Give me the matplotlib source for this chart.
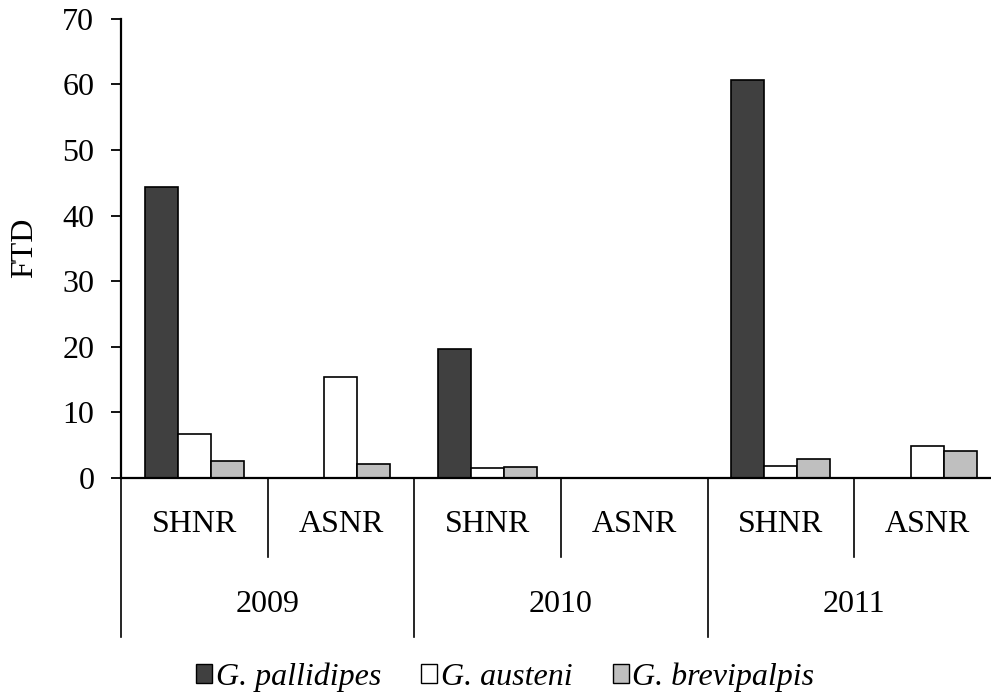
import matplotlib

matplotlib.use("Agg")
import matplotlib.pyplot as plt
import matplotlib.transforms as mtransforms
import numpy as np
from matplotlib.patches import Patch

plt.rcParams["font.family"] = ["Liberation Serif", "DejaVu Serif"]

# data
years = ["2009", "2010", "2011"]
sites = ["SHNR", "ASNR", "SHNR", "ASNR", "SHNR", "ASNR"]
species = ["G. pallidipes", "G. austeni", "G. brevipalpis"]
pallidipes = [44.4, 0.0, 19.7, 0.0, 60.6, 0.0]
austeni = [6.7, 15.4, 1.45, 0.0, 1.8, 4.9]
brevipalpis = [2.5, 2.1, 1.6, 0.0, 2.8, 4.1]
colors = ["#404040", "#ffffff", "#bfbfbf"]

FS = 23

fig = plt.figure(figsize=(9.91, 6.96), dpi=100)
# right edge sits a little beyond the canvas, as in the original
ax = fig.add_axes([121 / 991, 1 - 477.8 / 696, 880 / 991, 459 / 696])

x = np.arange(len(sites))
w = 0.225
for i, (vals, c) in enumerate(zip([pallidipes, austeni, brevipalpis], colors)):
    ax.bar(x + (i - 1) * w, vals, width=w, color=c, edgecolor="black",
           linewidth=1.2, zorder=2)

ax.set_xlim(-0.5, len(sites) - 0.5)
ax.set_ylim(0, 70)
ax.set_yticks(range(0, 71, 10))
ax.tick_params(axis="y", labelsize=FS, length=7.2, width=1.3, pad=12)
ax.set_xticks([])
for s in ("top", "right"):
    ax.spines[s].set_visible(False)
ax.spines["left"].set_linewidth(1.6)
ax.spines["bottom"].set_linewidth(1.6)

# two-tier category axis
trans = mtransforms.blended_transform_factory(ax.transData, ax.transAxes)
inner_bottom = -(557 - 477.8) / 459
outer_bottom = -(637 - 477.8) / 459
for k in range(len(sites) + 1):
    xb = k - 0.5
    yb = outer_bottom if k % 2 == 0 else inner_bottom
    ax.plot([xb, xb], [0, yb], color="black", lw=1.2, transform=trans,
            clip_on=False)
for k, s in enumerate(sites):
    ax.text(k, -(525 - 477.8) / 459, s, ha="center", va="center",
            fontsize=FS, transform=trans)
for j, yr in enumerate(years):
    ax.text(2 * j + 0.5, -(605 - 477.8) / 459, yr, ha="center", va="center",
            fontsize=FS, transform=trans)

fig.text(25 / 991, 1 - 248 / 696, "FTD", rotation=90, ha="center",
         va="center", fontsize=FS)

handles = [Patch(facecolor=c, edgecolor="black", linewidth=1.0) for c in colors]
fig.legend(handles, species, loc="center", bbox_to_anchor=(0.51, 1 - 677 / 696),
           ncol=3, frameon=False, prop={"style": "italic", "size": FS},
           handlelength=0.5, handleheight=0.5, handletextpad=0.12,
           columnspacing=1.25, borderaxespad=0, borderpad=0)

fig.savefig("out.png", dpi=100)
